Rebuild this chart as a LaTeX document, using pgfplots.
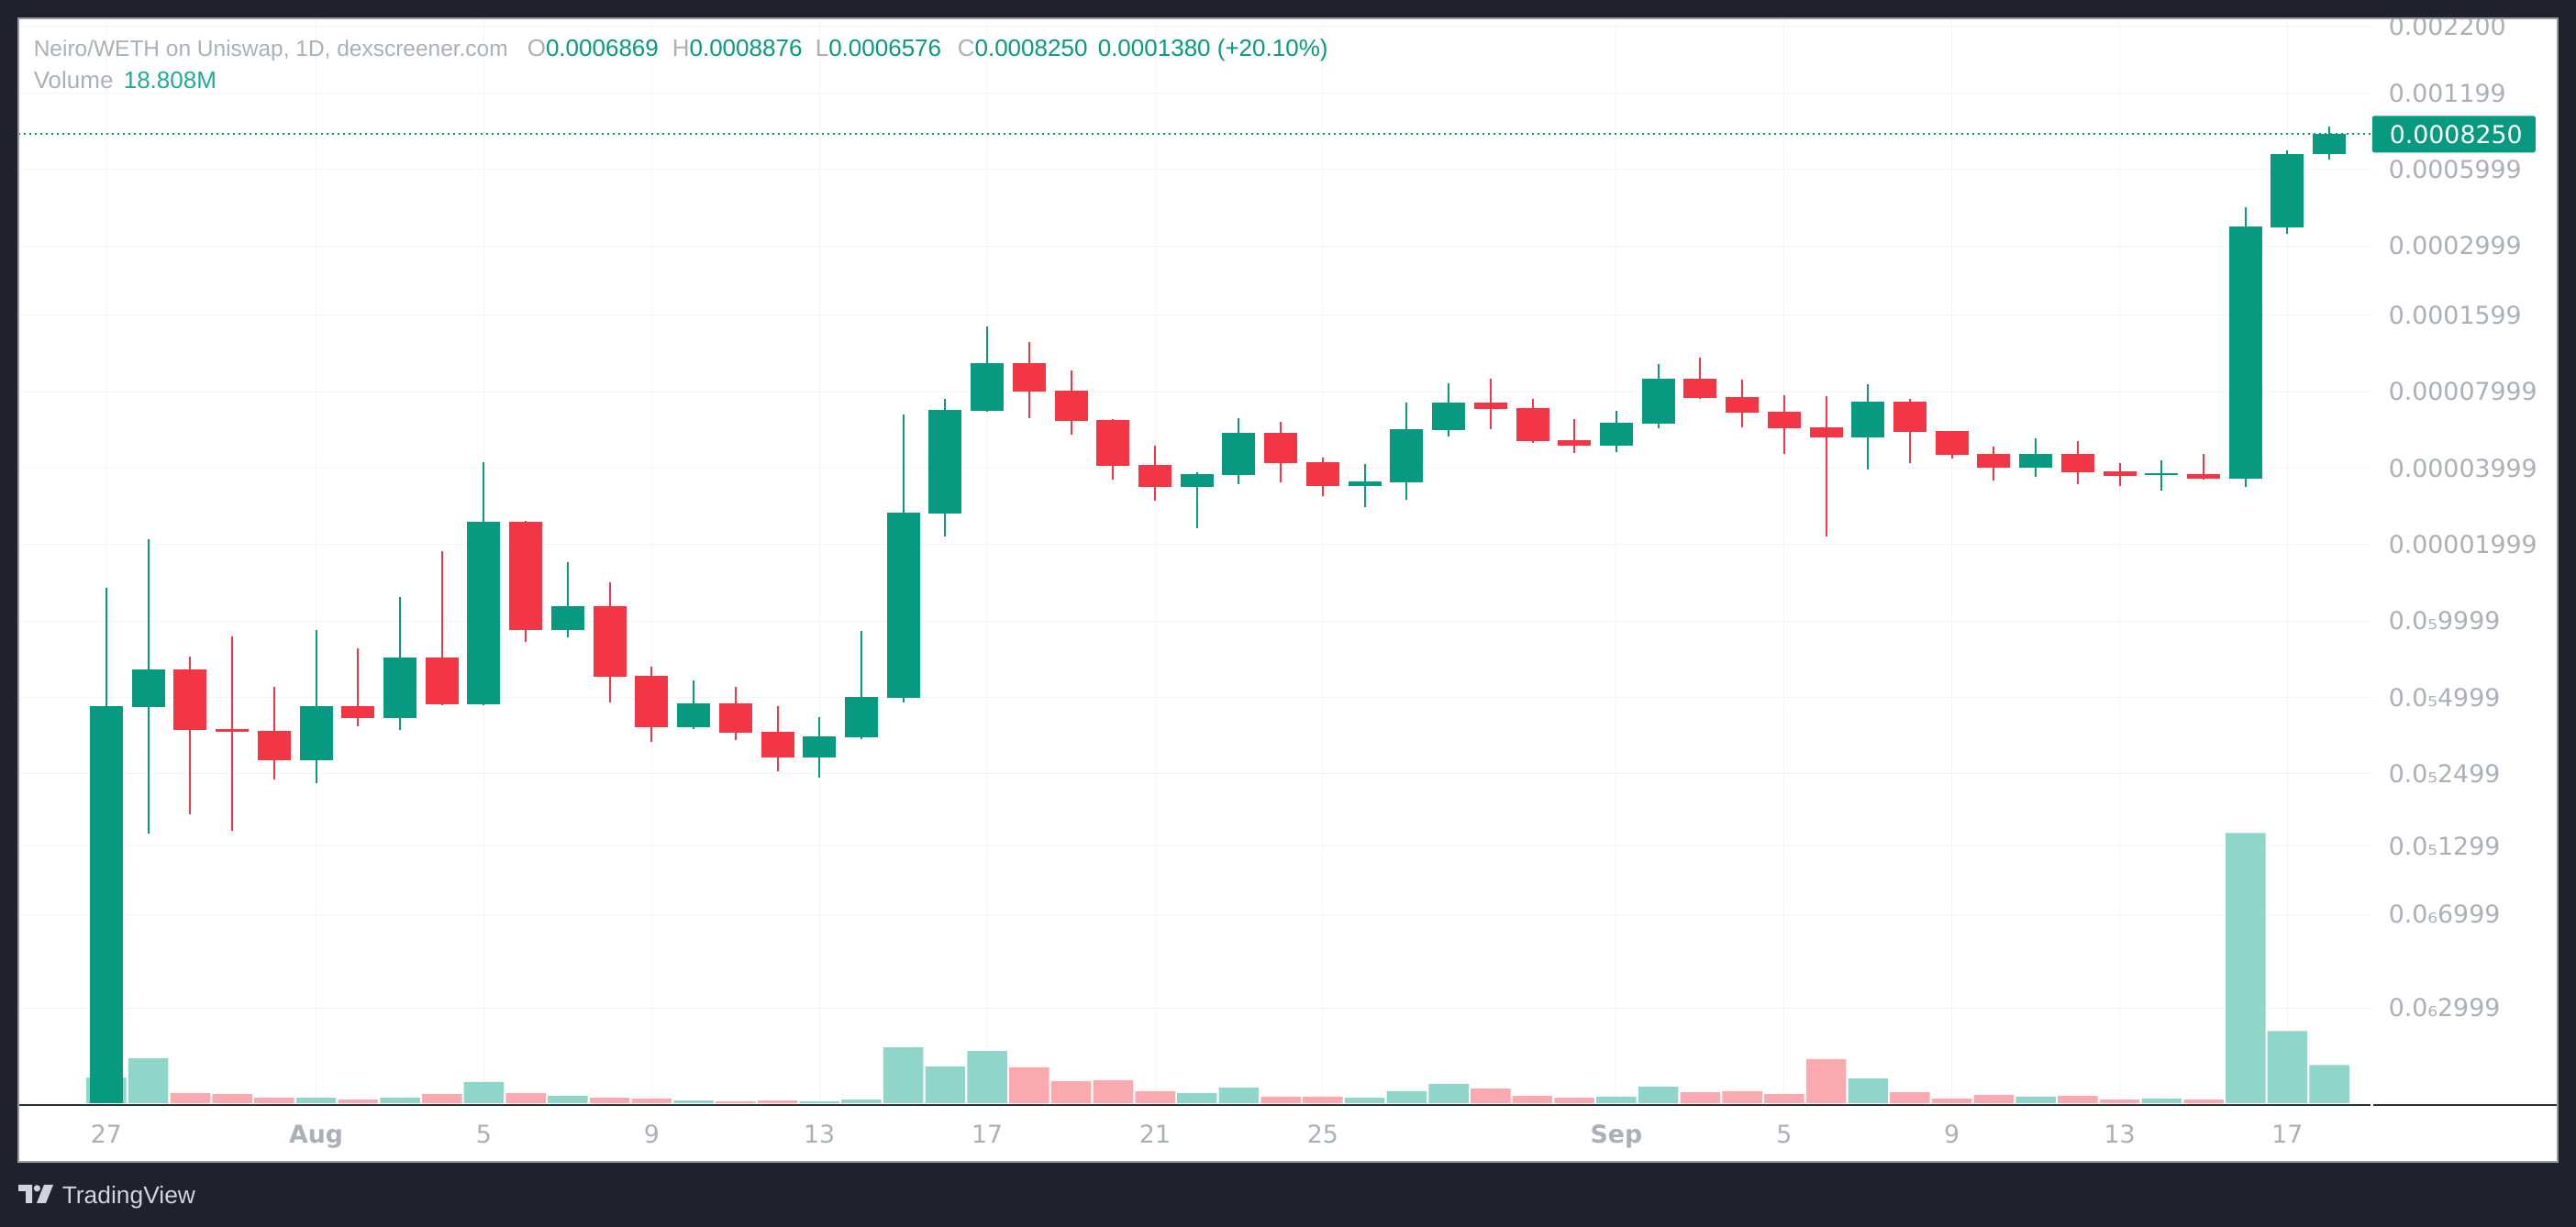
\documentclass[border=0pt]{standalone}
\usepackage{pgfplots}
\pgfplotsset{compat=1.18}
\usepackage{pgfplotstable}
\usepackage{fontspec}
\setmainfont{Liberation Sans}
\newfontfamily\dejavu{DejaVu Sans}

\definecolor{upc}{HTML}{089981}
\definecolor{dnc}{HTML}{F23645}
\definecolor{upv}{HTML}{8FD5CA}
\definecolor{dnv}{HTML}{FAA9AE}
\definecolor{frame}{HTML}{1F222D}
\definecolor{lbl}{HTML}{ACAFB8}
\definecolor{gridc}{HTML}{F3F4F6}
\definecolor{axl}{HTML}{2A2E39}
\definecolor{logoc}{HTML}{D1D4DC}
\definecolor{volg}{HTML}{22AB94}
\definecolor{bord}{HTML}{9598A1}

% day  open  high  low  close  volume(M)
\pgfplotstableread{
d o h l c v
0 1.2637e-7 1.350e-5 1.2637e-7 4.622e-6 12.6
1 4.584e-6 2.098e-5 1.455e-6 6.444e-6 22.1
5 2.830e-6 9.215e-6 2.299e-6 4.622e-6 2.7
7 4.149e-6 1.243e-5 3.724e-6 7.181e-6 2.7
9 4.700e-6 4.217e-5 4.650e-6 2.457e-5 10.4
11 9.215e-6 1.705e-5 8.622e-6 1.1436e-5 3.6
14 3.818e-6 5.835e-6 3.755e-6 4.739e-6 1.35
17 2.902e-6 4.184e-6 2.416e-6 3.513e-6 0.9
18 3.484e-6 9.140e-6 3.426e-6 5.022e-6 1.8
19 4.981e-6 6.500e-5 4.778e-6 2.671e-5 27.5
20 2.649e-5 7.486e-5 2.151e-5 6.774e-5 18.0
21 6.718e-5 1.4436e-4 6.663e-5 1.035e-4 25.7
26 3.370e-5 3.850e-5 2.319e-5 3.785e-5 5.0
27 3.754e-5 6.286e-5 3.454e-5 5.503e-5 7.7
30 3.398e-5 4.149e-5 2.807e-5 3.542e-5 2.7
31 3.513e-5 7.241e-5 3.000e-5 5.690e-5 5.9
32 5.643e-5 8.622e-5 5.324e-5 7.241e-5 9.5
36 4.899e-5 6.718e-5 4.622e-5 6.030e-5 3.2
37 5.980e-5 1.0268e-4 5.737e-5 8.986e-5 8.1
42 5.280e-5 8.549e-5 3.947e-5 7.302e-5 12.2
46 4.013e-5 5.236e-5 3.694e-5 4.546e-5 3.2
49 3.754e-5 4.289e-5 3.259e-5 3.818e-5 2.3
51 3.631e-5 4.253e-4 3.370e-5 3.573e-4 132.9
52 3.543e-4 7.122e-4 3.342e-4 6.870e-4 35.5
53 6.869e-4 8.876e-4 6.576e-4 8.250e-4 18.808
}\upT

\pgfplotstableread{
d o h l c v
2 6.444e-6 7.241e-6 1.733e-6 3.724e-6 5.0
3 3.755e-6 8.694e-6 1.493e-6 3.662e-6 4.5
4 3.694e-6 5.502e-6 2.377e-6 2.830e-6 2.7
6 4.622e-6 7.803e-6 3.850e-6 4.149e-6 1.8
8 7.181e-6 1.882e-5 4.650e-6 4.700e-6 4.5
10 2.457e-5 2.470e-5 8.270e-6 9.215e-6 5.0
12 1.1436e-5 1.420e-5 4.778e-6 6.034e-6 2.7
13 6.084e-6 6.608e-6 3.342e-6 3.818e-6 2.3
15 4.739e-6 5.502e-6 3.398e-6 3.631e-6 0.9
16 3.662e-6 4.622e-6 2.560e-6 2.902e-6 1.35
22 1.035e-4 1.253e-4 6.286e-5 8.000e-5 17.6
23 8.067e-5 9.685e-5 5.414e-5 6.131e-5 10.8
24 6.184e-5 6.240e-5 3.601e-5 4.079e-5 11.3
25 4.113e-5 4.899e-5 2.975e-5 3.370e-5 5.9
28 5.503e-5 6.082e-5 3.513e-5 4.184e-5 3.2
29 4.217e-5 4.397e-5 3.102e-5 3.398e-5 3.2
33 7.241e-5 8.986e-5 5.690e-5 6.830e-5 7.2
34 6.888e-5 7.486e-5 5.022e-5 5.107e-5 3.6
35 5.150e-5 6.233e-5 4.584e-5 4.899e-5 2.7
38 8.986e-5 1.0879e-4 7.486e-5 7.548e-5 5.4
39 7.611e-5 8.913e-5 5.785e-5 6.608e-5 5.9
40 6.663e-5 7.738e-5 4.546e-5 5.737e-5 4.5
41 5.785e-5 7.674e-5 2.151e-5 5.280e-5 21.7
43 7.302e-5 7.486e-5 4.184e-5 5.550e-5 5.4
44 5.596e-5 5.620e-5 4.362e-5 4.509e-5 2.3
45 4.546e-5 4.858e-5 3.572e-5 4.013e-5 4.1
47 4.546e-5 5.107e-5 3.454e-5 3.850e-5 3.6
48 3.882e-5 4.184e-5 3.398e-5 3.724e-5 1.8
50 3.785e-5 4.546e-5 3.601e-5 3.631e-5 1.8
}\dnT

\pgfplotsset{chartbox/.style={at={(5pt,33.75pt)}, anchor=south west, scale only axis,
  width=641.25pt, height=295.75pt, xmin=-2.0997, xmax=54.0026}}
\newcommand\lblfont{\dejavu\fontsize{6.7}{8}\selectfont}

\begin{document}
\begin{tikzpicture}
\fill[frame] (0,0) rectangle (702pt,334.5pt);
\fill[white] (5pt,17.75pt) rectangle (697pt,329.5pt);

% faint grid (behind everything)
\begin{axis}[chartbox, ymode=log, ymin=1.2637e-7, ymax=2.3578e-3,
  axis line style={draw=none}, major tick length=0pt,
  ytick={0.0022,0.001199,0.0005999,0.0002999,0.0001599,0.00007999,0.00003999,0.00001999,0.000009999,0.000004999,0.000002499,0.000001299,0.0000006999,0.0000002999},
  xtick={0,5,9,13,17,21,25,29,36,40,44,48,52},
  xticklabels={}, yticklabels={},
  grid=major, major grid style={gridc, line width=0.25pt}]
\addplot[draw=none, forget plot] coordinates {(0,1e-5)};
\end{axis}

% volume overlay
\begin{axis}[chartbox, hide axis, ymin=0, ymax=533.5]
\addplot[ybar, bar width=10.875pt, bar shift=0pt, fill=upv, draw=none] table[x=d,y=v]{\upT};
\addplot[ybar, bar width=10.875pt, bar shift=0pt, fill=dnv, draw=none] table[x=d,y=v]{\dnT};
\end{axis}

% price candles
\begin{axis}[chartbox, ymode=log, ymin=1.2637e-7, ymax=2.3578e-3,
  axis line style={draw=none}, major tick length=0pt,
  ytick={0.0022,0.001199,0.0005999,0.0002999,0.0001599,0.00007999,0.00003999,0.00001999,0.000009999,0.000004999,0.000002499,0.000001299,0.0000006999,0.0000002999},
  yticklabels={0.002200,0.001199,0.0005999,0.0002999,0.0001599,0.00007999,0.00003999,0.00001999,0.0₅9999,0.0₅4999,0.0₅2499,0.0₅1299,0.0₆6999,0.0₆2999},
  yticklabel pos=right,
  yticklabel style={anchor=west, inner sep=0pt, xshift=4.5pt, font=\lblfont, text=lbl},
  xtick={0,5,9,13,17,21,25,29,36,40,44,48,52},
  xticklabels={27,\textbf{Aug},5,9,13,17,21,25,\textbf{Sep},5,9,13,17},
  xticklabel style={anchor=base, inner sep=0pt, yshift=-10.95pt, font=\lblfont, text=lbl},
]
\addplot[upc, line width=0.5pt, dash pattern=on 0.5pt off 1pt, forget plot] coordinates {(-2.0997,0.000825) (54.0026,0.000825)};
% wicks
\addplot[only marks, mark=*, mark size=0pt, mark options={draw=none, fill=none}, forget plot,
  error bars/.cd, y dir=plus, y explicit, error mark=none, error bar style={upc, line width=0.5pt}]
  table[x=d, y=l, y error expr={\thisrow{h}-\thisrow{l}}]{\upT};
\addplot[only marks, mark=*, mark size=0pt, mark options={draw=none, fill=none}, forget plot,
  error bars/.cd, y dir=plus, y explicit, error mark=none, error bar style={dnc, line width=0.5pt}]
  table[x=d, y=l, y error expr={\thisrow{h}-\thisrow{l}}]{\dnT};
% bodies
\addplot[only marks, mark=*, mark size=0pt, mark options={draw=none, fill=none}, forget plot,
  error bars/.cd, y dir=plus, y explicit, error mark=none, error bar style={upc, line width=9pt}]
  table[x=d, y=o, y error expr={\thisrow{c}-\thisrow{o}}]{\upT};
\addplot[only marks, mark=*, mark size=0pt, mark options={draw=none, fill=none}, forget plot,
  error bars/.cd, y dir=plus, y explicit, error mark=none, error bar style={dnc, line width=9pt}]
  table[x=d, y=c, y error expr={\thisrow{o}-\thisrow{c}}]{\dnT};
\coordinate (tagc) at (axis cs:54.0026,0.000825);
\end{axis}

% price tag
\node[anchor=west, fill=upc, minimum width=44.5pt, minimum height=10pt, inner sep=0pt, rounded corners=0.6pt] at (tagc) {};
\node[anchor=west, inner sep=0pt, xshift=4.75pt, text=white, font=\lblfont] at (tagc) {0.0008250};

% x axis line
\draw[axl, line width=0.6pt] (5pt,33.25pt) -- (646pt,33.25pt);
\draw[axl, line width=0.6pt] (646.75pt,33.25pt) -- (697pt,33.25pt);

% top band and border
\fill[frame] (0,329.5pt) rectangle (702pt,334.5pt);
\draw[bord, line width=0.3pt] (5pt,17.75pt) rectangle (697pt,329.5pt);

% header
\begin{scope}[every node/.style={anchor=base west, inner sep=0pt, font=\fontsize{6.5}{8}\selectfont}]
\node[text=lbl, font=\fontsize{6.12}{8}\selectfont] at (9pt,319.17pt) {Neiro/WETH on Uniswap, 1D, dexscreener.com};
\node at (143.5pt,319.17pt) {\textcolor{lbl}{O}\textcolor{upc}{0.0006869}};
\node at (183pt,319.17pt) {\textcolor{lbl}{H}\textcolor{upc}{0.0008876}};
\node at (222pt,319.17pt) {\textcolor{lbl}{L}\textcolor{upc}{0.0006576}};
\node at (260.75pt,319.17pt) {\textcolor{lbl}{C}\textcolor{upc}{0.0008250}};
\node[text=upc] at (299pt,319.17pt) {0.0001380 (+20.10\%)};
\node[text=lbl] at (9pt,310.42pt) {Volume};
\node[text=volg] at (33.5pt,310.42pt) {18.808M};
\end{scope}

% TradingView logo
\fill[logoc] (5pt,11.5pt) -- (8.75pt,11.5pt) -- (8.75pt,6.5pt) -- (7pt,6.5pt) -- (7pt,9.75pt) -- (5pt,9.75pt) -- cycle;
\fill[logoc] (10.1pt,10.55pt) circle (0.9pt);
\fill[logoc] (12pt,11.5pt) -- (14.5pt,11.5pt) -- (12.5pt,6.5pt) -- (10pt,6.5pt) -- cycle;
\node[anchor=base west, inner sep=0pt, text=logoc, font=\fontsize{6.6}{8}\selectfont] at (16.75pt,6.39pt) {TradingView};

\pgfresetboundingbox
\useasboundingbox (0,0) rectangle (702pt,334.5pt);
\end{tikzpicture}
\end{document}
